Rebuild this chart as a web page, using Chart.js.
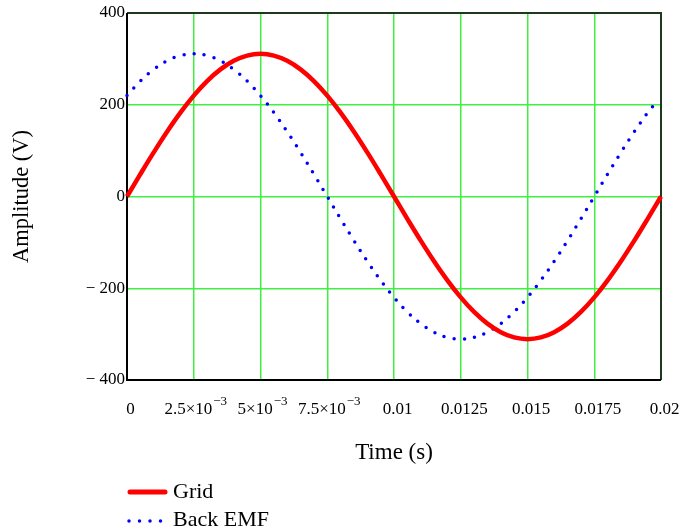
<!DOCTYPE html>
<html>
<head>
<meta charset="utf-8">
<script src="https://cdn.jsdelivr.net/npm/chart.js@4.4.1/dist/chart.umd.min.js"></script>
<style>
  html, body { margin: 0; padding: 0; background: #fff; }
  #wrap { position: relative; width: 682px; height: 529px; }
  #c { position: absolute; left: 0; top: 0; }
  .leg { position: absolute; font-family: "Liberation Serif", "Times New Roman", serif; font-size: 22px; color: #000; line-height: 1; white-space: nowrap; }
</style>
</head>
<body>
<div id="wrap">
  <canvas id="c" width="682" height="529"></canvas>
  <svg style="position:absolute;left:0;top:0" width="682" height="529">
    <line x1="130" y1="492" x2="165" y2="492" stroke="#ff0000" stroke-width="5" stroke-linecap="round"/>
    <line x1="129" y1="521" x2="162" y2="521" stroke="#0000ff" stroke-width="3.5" stroke-linecap="round" stroke-dasharray="0 10.5"/>
  </svg>
  <div class="leg" id="leg1" style="left:173px;top:480px;">Grid</div>
  <div class="leg" id="leg2" style="left:173px;top:508px;">Back EMF</div>
</div>
<script>
// ---- data ----
const gridTime = [0, 0.0005, 0.001, 0.0015, 0.002, 0.0025, 0.003, 0.0035, 0.004, 0.0045,
  0.005, 0.0055, 0.006, 0.0065, 0.007, 0.0075, 0.008, 0.0085, 0.009, 0.0095,
  0.01, 0.0105, 0.011, 0.0115, 0.012, 0.0125, 0.013, 0.0135, 0.014, 0.0145,
  0.015, 0.0155, 0.016, 0.0165, 0.017, 0.0175, 0.018, 0.0185, 0.019, 0.0195, 0.02];
const gridValues = [0, 48.7, 96.1, 141.2, 182.8, 219.9, 251.6, 277.1, 295.8, 307.2,
  311, 307.2, 295.8, 277.1, 251.6, 219.9, 182.8, 141.2, 96.1, 48.7,
  0, -48.7, -96.1, -141.2, -182.8, -219.9, -251.6, -277.1, -295.8, -307.2,
  -311, -307.2, -295.8, -277.1, -251.6, -219.9, -182.8, -141.2, -96.1, -48.7, 0];

const emfTime = [0, 0.0005, 0.001, 0.0015, 0.002, 0.0025, 0.003, 0.0035, 0.004, 0.0045,
  0.005, 0.0055, 0.006, 0.0065, 0.007, 0.0075, 0.008, 0.0085, 0.009, 0.0095,
  0.01, 0.0105, 0.011, 0.0115, 0.012, 0.0125, 0.013, 0.0135, 0.014, 0.0145,
  0.015, 0.0155, 0.016, 0.0165, 0.017, 0.0175, 0.018, 0.0185, 0.019, 0.0195, 0.0197];
const emfValues = [219.9, 251.6, 277.1, 295.8, 307.2, 311, 307.2, 295.8, 277.1, 251.6,
  219.9, 182.8, 141.2, 96.1, 48.7, 0, -48.7, -96.1, -141.2, -182.8,
  -219.9, -251.6, -277.1, -295.8, -307.2, -311, -307.2, -295.8, -277.1, -251.6,
  -219.9, -182.8, -141.2, -96.1, -48.7, 0, 48.7, 96.1, 141.2, 182.8, 197];

const xTickValues = [0, 0.0025, 0.005, 0.0075, 0.01, 0.0125, 0.015, 0.0175, 0.02];
// [mantissa text, exponent text]
const xTickLabels = [['0', ''], ['2.5×10', '−3'], ['5×10', '−3'], ['7.5×10', '−3'],
  ['0.01', ''], ['0.0125', ''], ['0.015', ''], ['0.0175', ''], ['0.02', '']];
const yTickValues = [-400, -200, 0, 200, 400];
const yTickLabels = ['− 400', '− 200', '0', '200', '400'];
const seriesNames = ['Grid', 'Back EMF'];

// ---- chart ----
const FONT = '"Liberation Serif", "Times New Roman", serif';
const GRIDCOL = '#40f040';

const framePlugin = {
  id: 'frame',
  beforeDatasetsDraw(chart) {
    const a = chart.chartArea, ctx = chart.ctx;
    ctx.save();
    ctx.strokeStyle = '#1e3a1e';
    ctx.lineWidth = 2;
    ctx.beginPath();
    ctx.moveTo(a.left, a.top);
    ctx.lineTo(a.right, a.top);
    ctx.lineTo(a.right, a.bottom);
    ctx.stroke();
    ctx.strokeStyle = '#000';
    ctx.beginPath();
    ctx.moveTo(a.left, a.top);
    ctx.lineTo(a.left, a.bottom);
    ctx.lineTo(a.right, a.bottom);
    ctx.stroke();
    ctx.restore();
  },
  afterDraw(chart) {
    // x tick labels with superscript exponents
    const xs = chart.scales.x, ctx = chart.ctx;
    const baseY = chart.chartArea.bottom + 34;
    ctx.save();
    ctx.fillStyle = '#000';
    ctx.textBaseline = 'alphabetic';
    ctx.textAlign = 'left';
    xTickValues.forEach((v, i) => {
      const [m, e] = xTickLabels[i];
      ctx.font = '17px ' + FONT;
      const mw = ctx.measureText(m).width;
      ctx.font = '13px ' + FONT;
      const ew = e ? ctx.measureText(e).width + 1 : 0;
      const px = xs.getPixelForValue(v);
      const x0 = px - (mw + ew) / 2 + (e ? 2 : 3.5);
      ctx.font = '17px ' + FONT;
      ctx.fillText(m, x0, baseY);
      if (e) {
        ctx.font = '13px ' + FONT;
        ctx.fillText(e, x0 + mw + 1, baseY - 9);
      }
    });
    ctx.restore();
  }
};

new Chart(document.getElementById('c'), {
  type: 'line',
  data: {
    datasets: [
      {
        label: seriesNames[0],
        data: gridTime.map((t, i) => ({ x: t, y: gridValues[i] })),
        borderColor: '#ff0000',
        borderWidth: 4.5,
        pointRadius: 0,
        tension: 0.4,
        fill: false,
        clip: 4
      },
      {
        label: seriesNames[1],
        data: emfTime.map((t, i) => ({ x: t, y: emfValues[i] })),
        borderColor: '#0000ff',
        borderWidth: 3.5,
        borderDash: [0, 10.2],
        borderCapStyle: 'round',
        pointRadius: 0,
        tension: 0.4,
        fill: false,
        clip: 4
      }
    ]
  },
  options: {
    responsive: false,
    animation: false,
    devicePixelRatio: 1,
    layout: { padding: { top: 13, right: 21, bottom: 60, left: 0 } },
    plugins: { legend: { display: false }, tooltip: { enabled: false } },
    scales: {
      x: {
        type: 'linear',
        min: 0, max: 0.02,
        afterBuildTicks: s => { s.ticks = xTickValues.map(v => ({ value: v })); },
        afterFit: s => { s.height = 89; s.paddingLeft = 0; s.paddingRight = 0; },
        ticks: {
          callback: (v, i) => xTickLabels[i][0] + xTickLabels[i][1],
          font: { family: FONT, size: 17 },
          color: 'rgba(0,0,0,0)',
          padding: 19,
          maxRotation: 0,
          autoSkip: false
        },
        grid: { color: GRIDCOL, lineWidth: 1.5, drawTicks: false },
        border: { display: false },
        title: { display: true, text: 'Time (s)', font: { family: FONT, size: 23 }, color: '#000', padding: { top: 0, bottom: 2 } }
      },
      y: {
        type: 'linear',
        min: -400, max: 400,
        afterBuildTicks: s => { s.ticks = yTickValues.map(v => ({ value: v })); },
        afterFit: s => { s.width = 127; s.paddingTop = 0; s.paddingBottom = 0; },
        ticks: {
          callback: (v, i) => yTickLabels[i],
          font: { family: FONT, size: 17 },
          color: '#000',
          padding: 2,
          autoSkip: false
        },
        grid: { color: GRIDCOL, lineWidth: 1.5, drawTicks: false },
        border: { display: false },
        title: { display: true, text: 'Amplitude (V)', font: { family: FONT, size: 22.5 }, color: '#000', padding: { top: 9, bottom: 0 } }
      }
    }
  },
  plugins: [framePlugin]
});
</script>
</body>
</html>
